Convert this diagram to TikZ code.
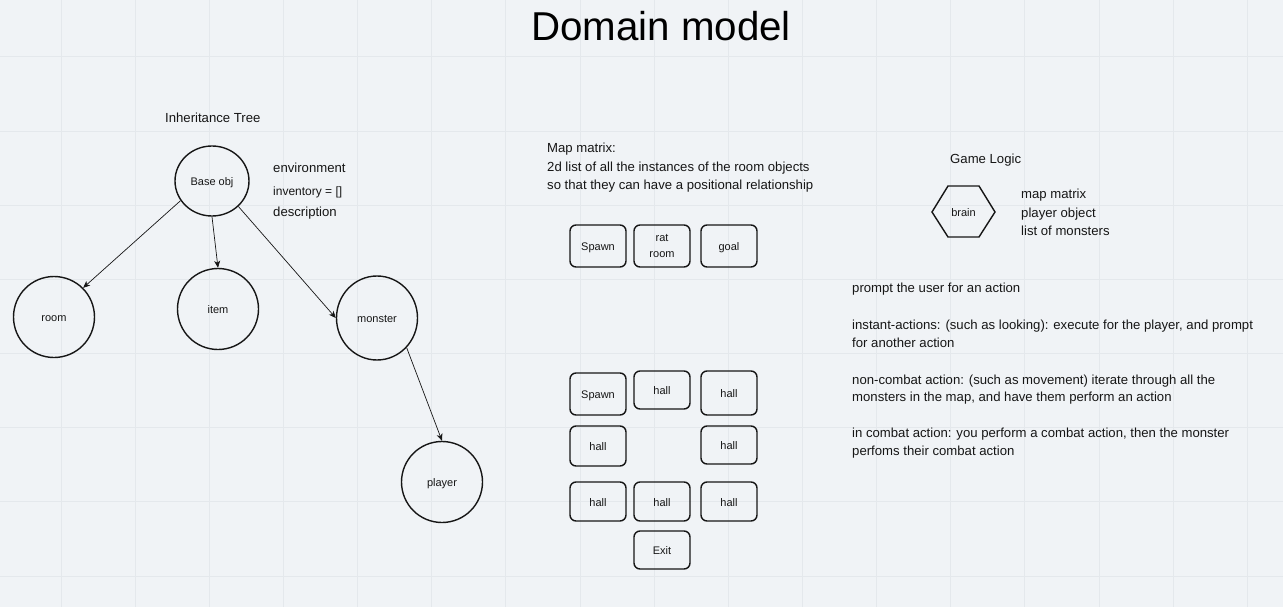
\documentclass[tikz,border=0pt]{standalone}
\usepackage{fontspec}
\setmainfont{Liberation Sans}
\usetikzlibrary{shapes.geometric,arrows.meta}
\definecolor{bg}{RGB}{240,243,246}
\definecolor{gridc}{RGB}{228,232,236}
\definecolor{ink}{RGB}{22,22,22}
\begin{document}
\begin{tikzpicture}[x=1pt,y=-1pt,
  lowtext/.style={text height=11pt,text depth=2pt},
  circ/.style={ellipse,draw=ink,line width=1.4pt,inner sep=0pt,font=\fontsize{11}{13}\selectfont,text=ink,lowtext},
  mapbox/.style={rectangle,rounded corners=6pt,draw=ink,line width=1.4pt,minimum width=56pt,inner sep=0pt,font=\fontsize{11}{16}\selectfont,align=center,text=ink},
  lbl/.style={anchor=base west,inner sep=0pt,font=\fontsize{13.15}{15}\selectfont,text=ink},
  arr/.style={draw=ink,line width=0.7pt,-{Stealth[length=7pt,width=6pt,inset=2pt]}}
]
\useasboundingbox (0,0) rectangle (1283,607);
\fill[bg] (0,0) rectangle (1283,607);
\foreach \i in {0,...,16} \draw[gridc,line width=1pt] ({61+74.15*\i},0) -- ({61+74.15*\i},607);
\foreach \j in {0,...,7} \draw[gridc,line width=1pt] (0,{57+74.15*\j}) -- (1283,{57+74.15*\j});

% title
\node[anchor=base,inner sep=0pt,font=\fontsize{40.3}{46}\selectfont,text=black] (title) at (661,41) {Domain model};

% inheritance tree
\node[lbl] (inh) at (165,123) {Inheritance Tree};
\node[circ,minimum width=74pt,minimum height=70pt] (base) at (212,181) {Base obj};
\node[circ,minimum width=81pt,minimum height=81pt] (room) at (54,317) {room};
\node[circ,minimum width=81pt,minimum height=81pt] (item) at (218,309) {item};
\node[circ,minimum width=81pt,minimum height=84pt] (monster) at (377,318) {monster};
\node[circ,minimum width=81pt,minimum height=81pt] (player) at (442,482) {player};
\node[lbl] (env) at (273,173) {environment};
\node[lbl,font=\fontsize{12}{14}\selectfont] (inv) at (273,196) {inventory = []};
\node[lbl] (desc) at (273,216) {description};

\draw[arr] (base.212) -- (room.45);
\draw[arr] (base.south) -- (item.north);
\draw[arr] (base.-44) -- (monster.west);
\draw[arr] (monster.-45) -- (player.north);

% map matrix
\node[lbl] (mm1) at (547,153) {Map matrix:};
\node[lbl] (mm2) at (547,171.5) {2d list of all the instances of the room objects};
\node[lbl] (mm3) at (547,189.5) {so that they can have a positional relationship};

\node[mapbox,lowtext,minimum height=42pt] (r1) at (598,246) {Spawn};
\node[mapbox,minimum height=42pt] (r2) at (662,246) {\raisebox{-1pt}{rat}\\\raisebox{-1pt}{room}};
\node[mapbox,lowtext,minimum height=42pt] (r3) at (729,246) {goal};

\node[mapbox,lowtext,minimum height=42pt] (g11) at (598,394) {Spawn};
\node[mapbox,lowtext,minimum height=38pt] (g12) at (662,390) {hall};
\node[mapbox,lowtext,minimum height=44pt] (g13) at (729,393) {hall};
\node[mapbox,lowtext,minimum height=40pt] (g21) at (598,446) {hall};
\node[mapbox,lowtext,minimum height=38pt] (g23) at (729,445) {hall};
\node[mapbox,lowtext,minimum height=39pt] (g31) at (598,501.5) {hall};
\node[mapbox,lowtext,minimum height=39pt] (g32) at (662,501.5) {hall};
\node[mapbox,lowtext,minimum height=39pt] (g33) at (729,501.5) {hall};
\node[mapbox,lowtext,minimum height=38pt] (g41) at (662,550) {Exit};

% game logic
\node[lbl] (gl) at (950,163.3) {Game Logic};
\draw[ink,line width=1.4pt,line join=miter] (932,212) -- (948,186) -- (979,186) -- (995,212) -- (979,237) -- (948,237) -- cycle;
\node[inner sep=0pt,font=\fontsize{11}{13}\selectfont,text=ink,lowtext] (brain) at (963.5,212) {brain};
\node[lbl] (b1) at (1021,199) {map matrix};
\node[lbl] (b2) at (1021,217) {player object};
\node[lbl] (b3) at (1021,235) {list of monsters};

\node[lbl] (p1) at (852,292.5) {prompt the user for an action};
\node[lbl] (p2) at (852,329) {instant-actions: (such as looking): execute for the player, and prompt};
\node[lbl] (p3) at (852,347.3) {for another action};
\node[lbl] (p4) at (852,384) {non-combat action: (such as movement) iterate through all the};
\node[lbl] (p5) at (852,401.7) {monsters in the map, and have them perform an action};
\node[lbl] (p6) at (852,437.7) {in combat action: you perform a combat action, then the monster};
\node[lbl] (p7) at (852,455.3) {perfoms their combat action};
\end{tikzpicture}
\end{document}
